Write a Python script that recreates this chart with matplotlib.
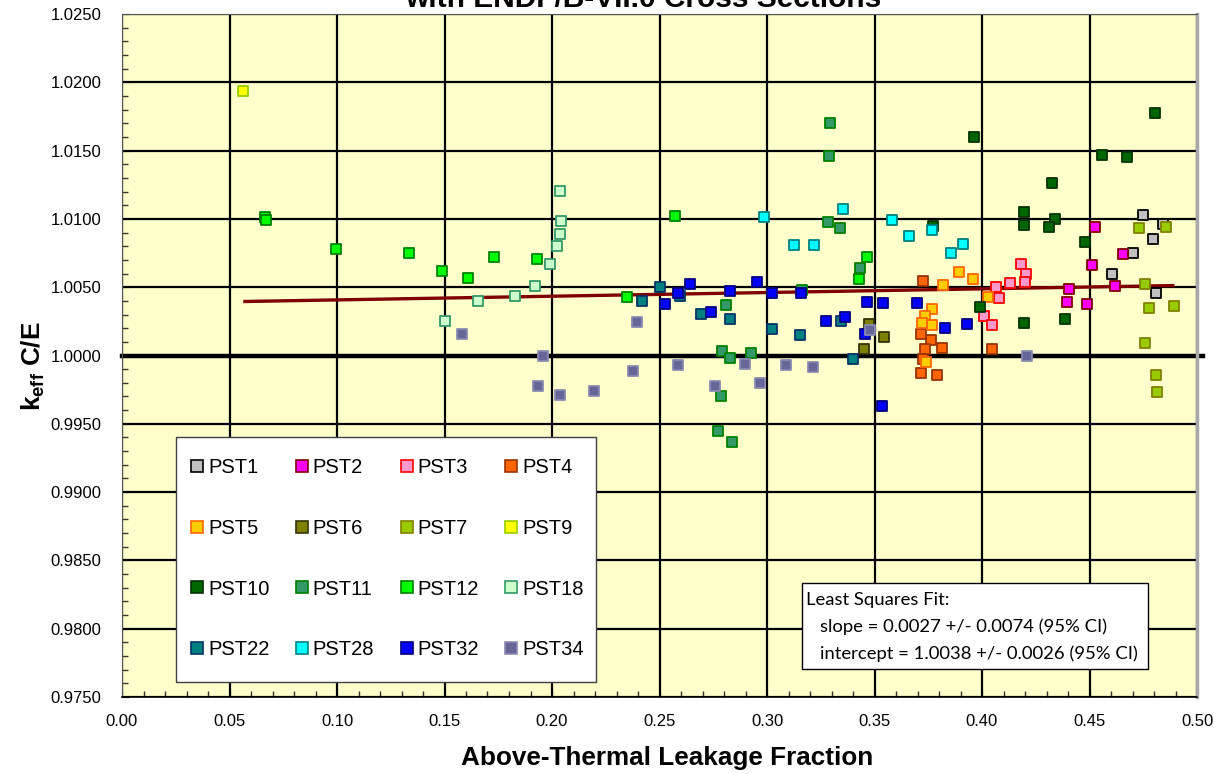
import matplotlib
matplotlib.use('Agg')
import matplotlib.pyplot as plt
from matplotlib.lines import Line2D
from matplotlib.patches import Rectangle
from matplotlib.ticker import MultipleLocator, FormatStrFormatter

plt.rcParams['font.family'] = 'Liberation Sans'
plt.rcParams['mathtext.fontset'] = 'custom'
plt.rcParams['mathtext.rm'] = 'Liberation Sans'
plt.rcParams['mathtext.bf'] = 'Liberation Sans:bold'

# above-thermal leakage fraction (x) vs keff C/E (y), one pair of lists per set
pst1_x = [0.4605, 0.4704, 0.4751, 0.4797, 0.4810, 0.4843]
pst1_y = [1.00598, 1.00747, 1.01025, 1.00854, 1.00461, 1.00966]
pst2_x = [0.4526, 0.4657, 0.4510, 0.4405, 0.4620, 0.4394, 0.4488]
pst2_y = [1.00939, 1.00742, 1.00663, 1.00490, 1.00512, 1.00388, 1.00378]
pst3_x = [0.4065, 0.4079, 0.4011, 0.4045, 0.4130, 0.4180, 0.4203, 0.4202]
pst3_y = [1.00498, 1.00422, 1.00288, 1.00220, 1.00534, 1.00673, 1.00597, 1.00537]
pst4_x = [0.3727, 0.3716, 0.3761, 0.3733, 0.3814, 0.3727, 0.3718, 0.3791, 0.4047]
pst4_y = [1.00544, 1.00158, 1.00110, 1.00048, 1.00053, 0.99975, 0.99873, 0.99854, 1.00044]
pst5_x = [0.3891, 0.3956, 0.3819, 0.3767, 0.3735, 0.3720, 0.3767, 0.3741, 0.4029]
pst5_y = [1.00610, 1.00561, 1.00517, 1.00337, 1.00288, 1.00239, 1.00220, 0.99956, 1.00429]
pst6_x = [0.3473, 0.3451, 0.3543]
pst6_y = [1.00229, 1.00051, 1.00136]
pst7_x = [0.4730, 0.4854, 0.4758, 0.4775, 0.4895, 0.4760, 0.4808, 0.4814]
pst7_y = [1.00934, 1.00939, 1.00520, 1.00346, 1.00359, 1.00090, 0.99858, 0.99731]
pst9_x = [0.0564]
pst9_y = [1.01935]
pst10_x = [0.3961, 0.4805, 0.4558, 0.4673, 0.4324, 0.4195, 0.4195, 0.4340, 0.4313,
           0.4481, 0.4195, 0.4387, 0.3989, 0.3771]
pst10_y = [1.01596, 1.01772, 1.01466, 1.01450, 1.01264, 1.01047, 1.00952, 1.00996, 1.00941,
           1.00829, 1.00239, 1.00264, 1.00354, 1.00949]
pst11_x = [0.3293, 0.3290, 0.3282, 0.3338, 0.3431, 0.3163, 0.2811, 0.2791, 0.2828,
           0.2927, 0.2786, 0.2773, 0.2836]
pst11_y = [1.01703, 1.01461, 1.00974, 1.00934, 1.00637, 1.00483, 1.00370, 1.00034, 0.99985,
           1.00019, 0.99702, 0.99444, 0.99365]
pst12_x = [0.0665, 0.0668, 0.0995, 0.1333, 0.1487, 0.1611, 0.1732, 0.1932, 0.2350,
           0.2574, 0.3467, 0.3428]
pst12_y = [1.01015, 1.00995, 1.00783, 1.00747, 1.00617, 1.00564, 1.00722, 1.00710, 1.00425,
           1.01022, 1.00722, 1.00559]
pst18_x = [0.1657, 0.1504, 0.2037, 0.2042, 0.2036, 0.2025, 0.1991, 0.1922, 0.1828]
pst18_y = [1.00400, 1.00251, 1.01205, 1.00985, 1.00893, 1.00805, 1.00673, 1.00507, 1.00439]
pst22_x = [0.2419, 0.2501, 0.2595, 0.2695, 0.2828, 0.3023, 0.3155, 0.3343, 0.3402]
pst22_y = [1.00397, 1.00500, 1.00434, 1.00307, 1.00268, 1.00193, 1.00149, 1.00253, 0.99975]
pst28_x = [0.2987, 0.3355, 0.3124, 0.3220, 0.3580, 0.3659, 0.3769, 0.3913, 0.3856]
pst28_y = [1.01012, 1.01073, 1.00812, 1.00812, 1.00990, 1.00878, 1.00917, 1.00815, 1.00754]
pst32_x = [0.2526, 0.2642, 0.2586, 0.2828, 0.2955, 0.3025, 0.3160, 0.3464, 0.2741,
           0.3273, 0.3361, 0.3455, 0.3533, 0.3541, 0.3698, 0.3828, 0.3929]
pst32_y = [1.00376, 1.00520, 1.00454, 1.00471, 1.00537, 1.00456, 1.00456, 1.00395, 1.00319,
           1.00256, 1.00283, 1.00154, 0.99631, 1.00385, 1.00385, 1.00202, 1.00227]
pst34_x = [0.1580, 0.2394, 0.1959, 0.1936, 0.2036, 0.2194, 0.2375, 0.2587, 0.2899,
           0.3088, 0.3214, 0.2758, 0.2967, 0.3480, 0.4210]
pst34_y = [1.00156, 1.00244, 1.00000, 0.99778, 0.99714, 0.99739, 0.99890, 0.99929, 0.99939,
           0.99931, 0.99917, 0.99775, 0.99800, 1.00185, 1.00000]

names = ['PST1', 'PST2', 'PST3', 'PST4', 'PST5', 'PST6', 'PST7', 'PST9',
         'PST10', 'PST11', 'PST12', 'PST18', 'PST22', 'PST28', 'PST32', 'PST34']
xs = [pst1_x, pst2_x, pst3_x, pst4_x, pst5_x, pst6_x, pst7_x, pst9_x,
      pst10_x, pst11_x, pst12_x, pst18_x, pst22_x, pst28_x, pst32_x, pst34_x]
ys = [pst1_y, pst2_y, pst3_y, pst4_y, pst5_y, pst6_y, pst7_y, pst9_y,
      pst10_y, pst11_y, pst12_y, pst18_y, pst22_y, pst28_y, pst32_y, pst34_y]
faces = ['#C0C0C0', '#FF00FF', '#FF99CC', '#FF6600', '#FFCC00', '#808000', '#99CC00', '#FFFF00',
         '#006600', '#339966', '#00FF00', '#CCFFCC', '#008080', '#00FFFF', '#0000FF', '#666699']
edges = ['#000000', '#800000', '#FF0000', '#993300', '#FF6600', '#333300', '#808000', '#99CC00',
         '#003300', '#008000', '#008000', '#339966', '#003366', '#008080', '#000080', '#8A8AB0']

# least squares fit
slope = 0.0027
intercept = 1.0038
fit_text = ['Least Squares Fit:',
            'slope = 0.0027 +/- 0.0074 (95% CI)',
            'intercept = 1.0038 +/- 0.0026 (95% CI)']

fig = plt.figure(figsize=(12.14, 7.74), dpi=100)
ax = fig.add_axes([122/1214, 1-697/774, 1075/1214, 683/774])
ax.set_facecolor('#FFFFCC')

ax.set_xlim(0.0, 0.5)
ax.set_ylim(0.975, 1.025)
ax.xaxis.set_major_locator(MultipleLocator(0.05))
ax.xaxis.set_minor_locator(MultipleLocator(0.01))
ax.yaxis.set_major_locator(MultipleLocator(0.005))
ax.yaxis.set_minor_locator(MultipleLocator(0.001))
ax.xaxis.set_major_formatter(FormatStrFormatter('%.2f'))
ax.yaxis.set_major_formatter(FormatStrFormatter('%.4f'))
ax.tick_params(which='major', direction='in', length=5, labelsize=12)
ax.tick_params(axis='x', which='major', pad=12)
ax.tick_params(axis='y', which='major', pad=15)
ax.tick_params(which='minor', direction='in', length=4, width=1, color='#333333')

ax.grid(which='major', color='k', lw=1.6, zorder=1)
ax.axhline(1.0, color='k', lw=3.2, zorder=2, xmax=1.006, clip_on=False)

for sp in ['left', 'top']:
    ax.spines[sp].set_color('#555555')
ax.spines['right'].set_color('#A8A8A8')
ax.spines['right'].set_linewidth(2.5)
ax.spines['bottom'].set_color('k')
ax.spines['bottom'].set_linewidth(1.2)

allx = [v for s in xs for v in s]
xfit = [min(allx), max(allx)]
yfit = [intercept + slope*v for v in xfit]
ax.plot(xfit, yfit, color='#800000', lw=2.4, zorder=2.5, solid_capstyle='butt')

for x, y, fc, ec in zip(xs, ys, faces, edges):
    ax.scatter(x, y, s=7.4**2, marker='s', c=fc, edgecolors=ec, linewidths=1.3, zorder=3)

# legend box, then the entries laid out row by row inside it
ax.add_patch(Rectangle((0.0502, 0.022), 0.3908, 0.3587, transform=ax.transAxes,
                       facecolor='white', edgecolor='#404040', lw=1.0, zorder=4.5))
handles = [Line2D([], [], ls='none', marker='s', ms=8.2, mfc=fc, mec=ec, mew=1.2, label=n)
           for n, fc, ec in zip(names, faces, edges)]
order = [r*4 + c for c in range(4) for r in range(4)]
leg = ax.legend(handles=[handles[k] for k in order], ncol=4, loc='upper left',
                bbox_to_anchor=(0.0502, 0.3807), borderaxespad=0, fontsize=14.5,
                frameon=False, borderpad=1.05, labelspacing=2.07, handlelength=0.0,
                handletextpad=0.55, columnspacing=1.6)
leg.set_zorder(5)

# fit summary box
ax.add_patch(Rectangle((0.6326, 0.041), 0.3218, 0.1259, transform=ax.transAxes,
                       facecolor='white', edgecolor='k', lw=1.0, zorder=5))
ax.text(0.6363, 0.142, fit_text[0], transform=ax.transAxes, fontsize=13.3,
        family='Lato', va='center', ha='left', zorder=6)
ax.text(0.6493, 0.1025, fit_text[1], transform=ax.transAxes, fontsize=13.3,
        family='Lato', va='center', ha='left', zorder=6)
ax.text(0.6493, 0.063, fit_text[2], transform=ax.transAxes, fontsize=13.3,
        family='Lato', va='center', ha='left', zorder=6)

ax.set_xlabel('Above-Thermal Leakage Fraction', fontsize=18.8, fontweight='bold', labelpad=11)
ax.xaxis.set_label_coords(0.507, -0.072)
ax.set_ylabel(r'$\mathbf{k_{eff}}$ C/E', fontsize=18.8, fontweight='bold')
ax.yaxis.set_label_coords(-0.07, 0.485)

fig.text(643/1214, 1-7/774, 'with ENDF/B-VII.0 Cross Sections', ha='center', va='baseline',
         fontsize=21.5, fontweight='bold')

fig.savefig('out.png', dpi=100)
plt.close(fig)
